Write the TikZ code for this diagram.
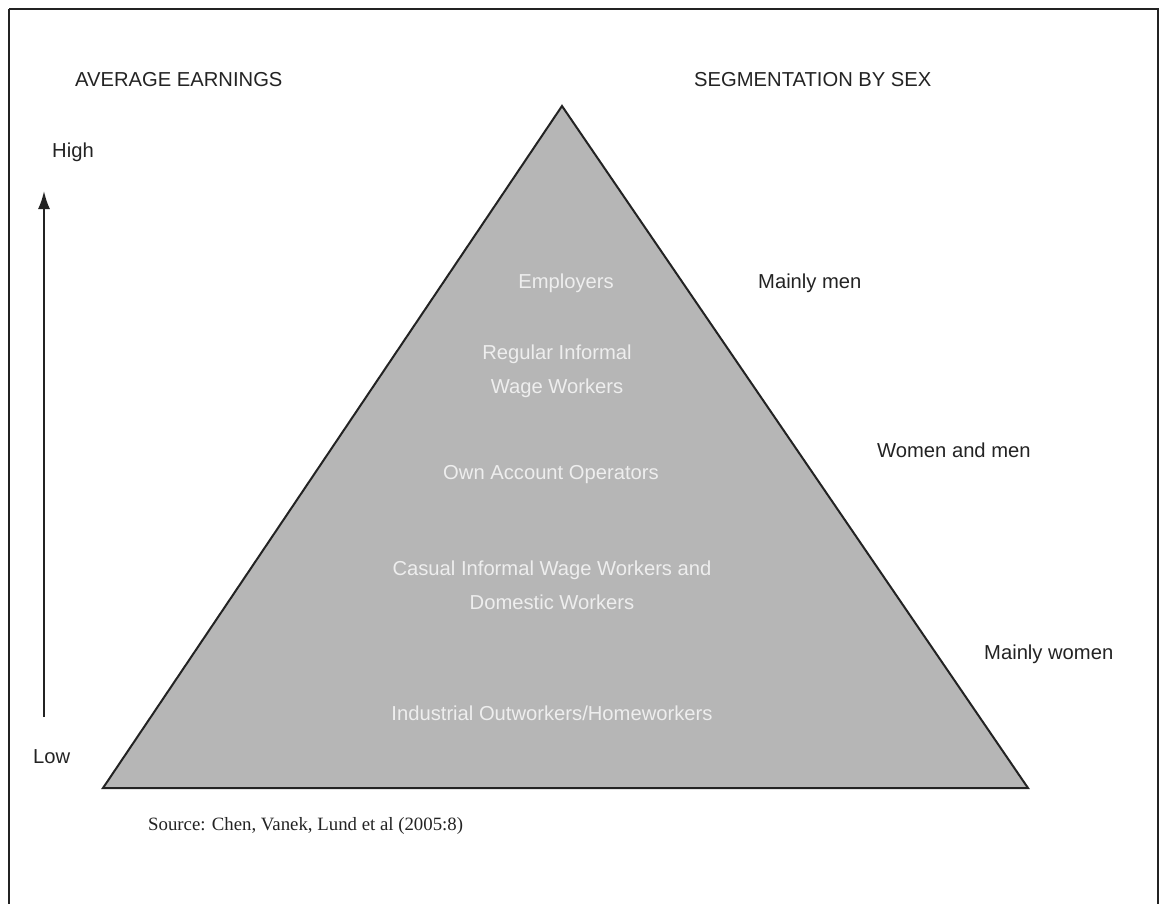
\documentclass[tikz,border=0pt]{standalone}
\usepackage{fontspec}
\setmainfont{Liberation Sans}
\newfontfamily\srcfont{Liberation Serif}
\usetikzlibrary{arrows.meta}
\definecolor{pyr}{RGB}{182,182,182}
\definecolor{ink}{RGB}{35,35,35}
\definecolor{light}{RGB}{238,238,238}
\tikzset{
  lbl/.style={font=\fontsize{20.2}{24}\selectfont, text=ink, inner sep=0pt},
  inlbl/.style={font=\fontsize{20.2}{34}\selectfont, text=light, inner sep=0pt, align=center},
  src/.style={font=\srcfont\fontsize{18.8}{22}\selectfont, text=ink, inner sep=0pt},
}
\begin{document}
\begin{tikzpicture}[x=1pt,y=-1pt]
\useasboundingbox (0,0) rectangle (1160,903);
\begin{scope}
\clip (0,0) rectangle (1160,903);
\draw[line width=2pt, ink] (9,9) -- (1158,9) -- (1158,920) (9,9) -- (9,920);
\end{scope}
% pyramid
\coordinate (apex) at (562,106);
\coordinate (bl) at (103,788);
\coordinate (br) at (1028,788);
\draw[line width=2pt, ink, fill=pyr, line join=miter] (apex) -- (br) -- (bl) -- cycle;
% headers
\node[lbl, anchor=west] (avg) at (75,80) {AVERAGE EARNINGS};
\node[lbl, anchor=west] (seg) at (694,80) {SEGMENTATION BY SEX};
\node[lbl, anchor=west] (high) at (52,152) {High};
\node[lbl, anchor=west] (low) at (33,757) {Low};
\coordinate (arrlow) at (44,717);
\coordinate (arrhigh) at (44,191);
\draw[line width=2pt, ink, -{Latex[length=18pt,width=12pt]}] (arrlow) -- (arrhigh);
% right labels
\node[lbl, anchor=west] (men) at (758,283) {Mainly men};
\node[lbl, anchor=west] (wm) at (877,450) {Women and men};
\node[lbl, anchor=west] (women) at (984,654) {Mainly women};
% inner labels
\node[inlbl] (emp) at (566,283) {Employers};
\node[inlbl] (reg) at (557,371) {Regular Informal\\Wage Workers};
\node[inlbl] (own) at (551,475) {Own Account Operators};
\node[inlbl] (cas) at (552,585) {Casual Informal Wage Workers and\\Domestic Workers};
\node[inlbl] (ind) at (552,713) {Industrial Outworkers/Homeworkers};
% source
\node[src, anchor=west] (source) at (148,826) {Source: Chen, Vanek, Lund et al (2005:8)};
\end{tikzpicture}
\end{document}
